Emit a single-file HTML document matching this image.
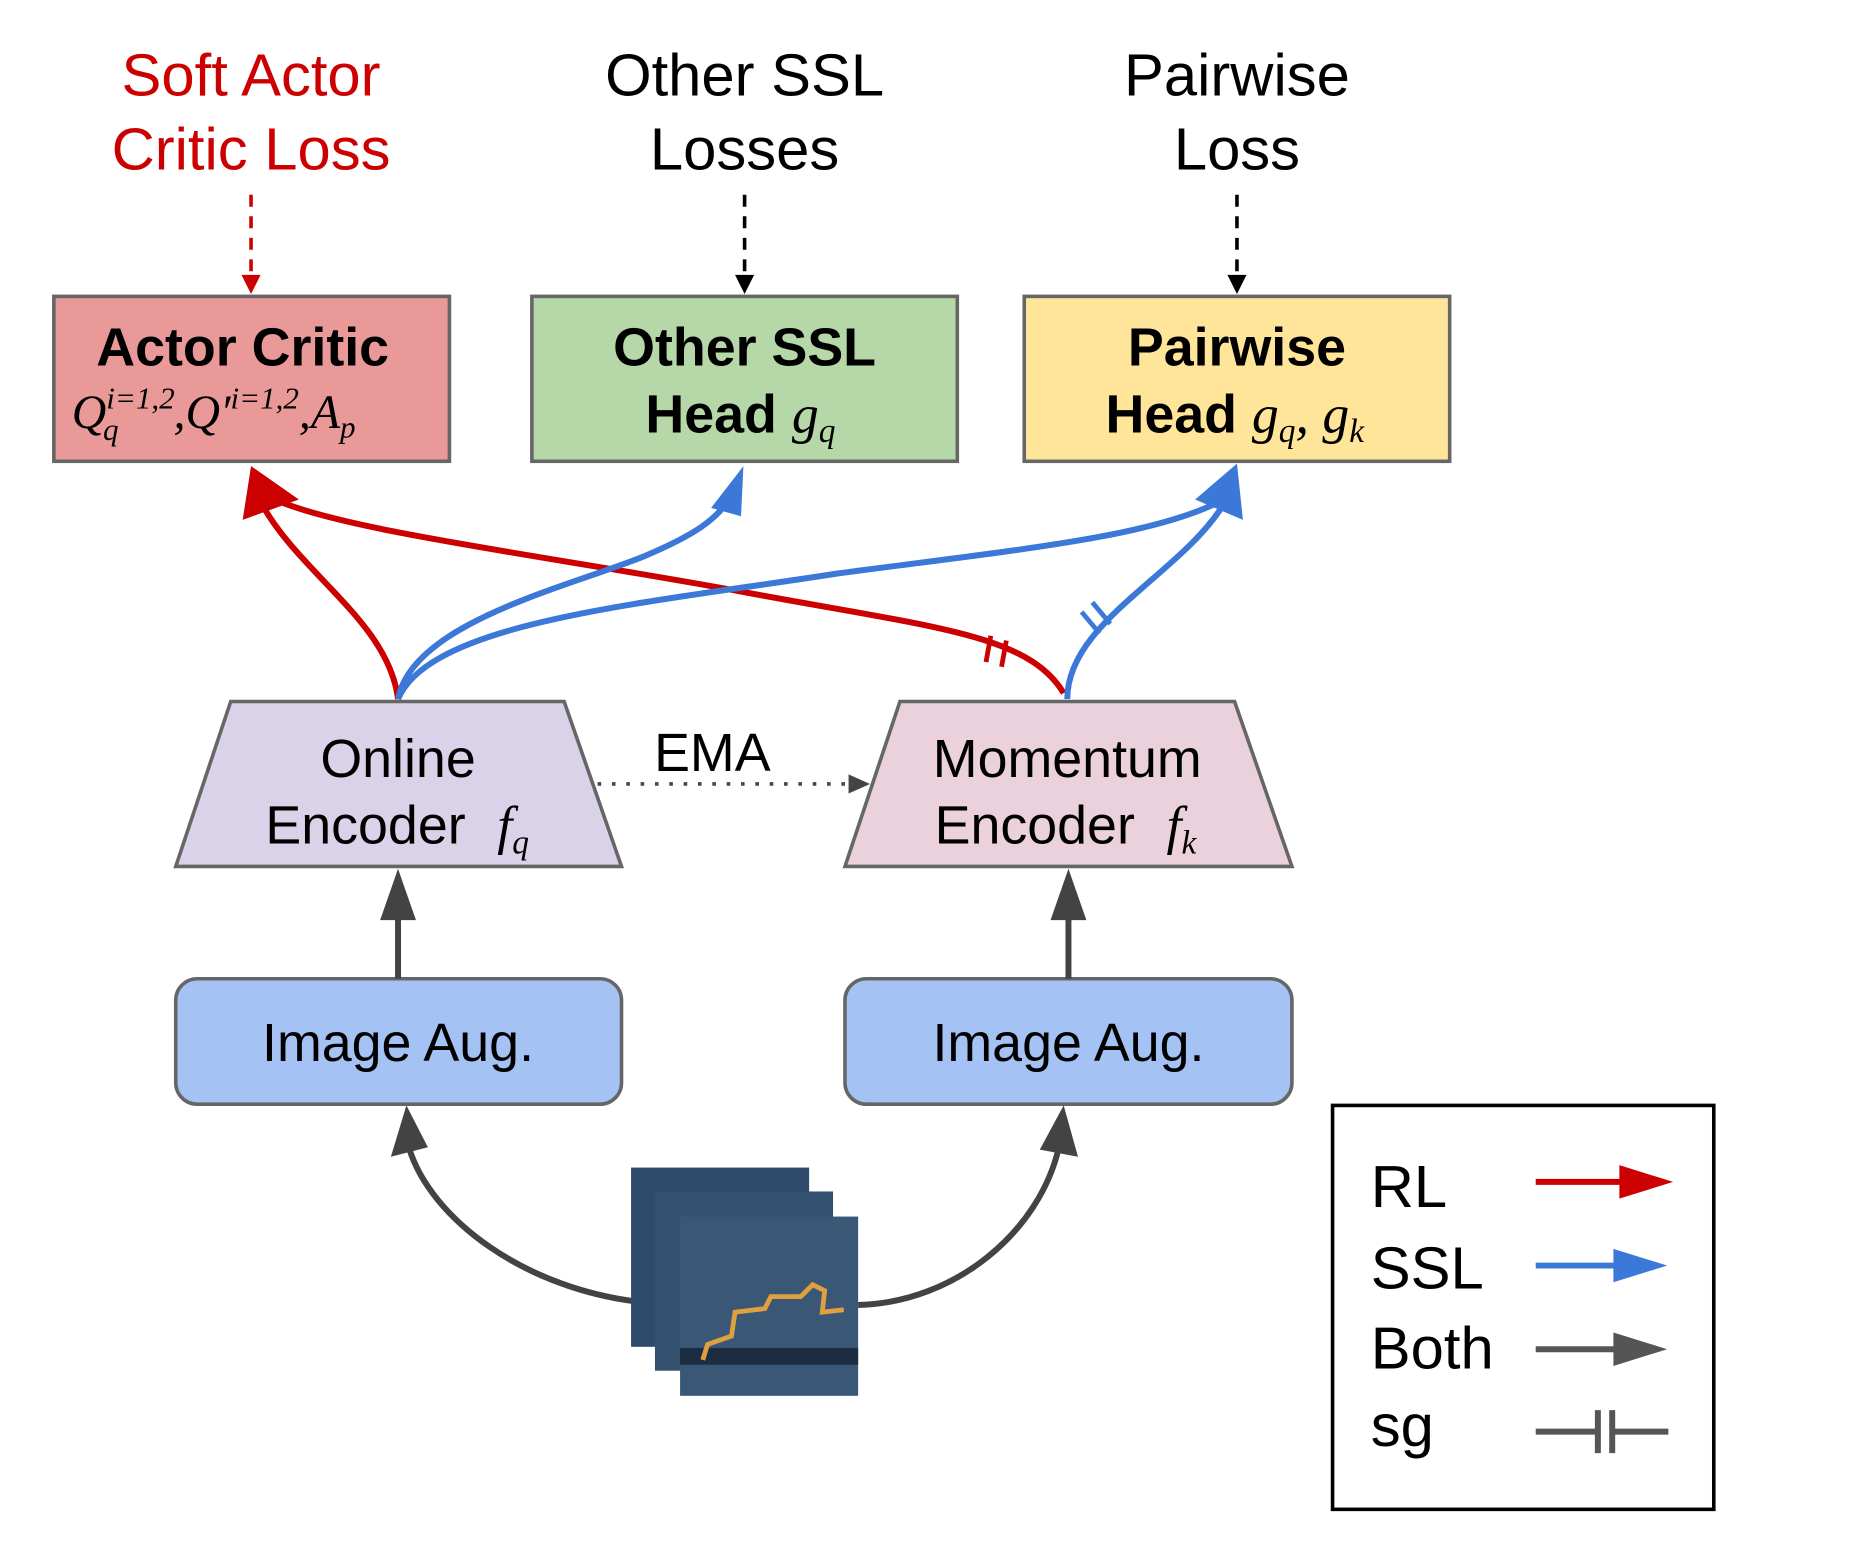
<!DOCTYPE html>
<html><head><meta charset="utf-8"><style>
html,body{margin:0;padding:0;background:#fff;}
svg{display:block;}
text{font-family:"Liberation Sans",sans-serif;}
.m{font-family:"Liberation Serif",serif;font-style:italic;}
</style></head><body>
<svg width="1874" height="1544" viewBox="0 0 1568 1292" xmlns="http://www.w3.org/2000/svg">
<rect width="1568" height="1292" fill="#fff"/>
<g font-size="50" text-anchor="middle">
<text x="210" y="80" fill="#cc0000">Soft Actor</text>
<text x="210" y="142" fill="#cc0000">Critic Loss</text>
<text x="623" y="80">Other SSL</text>
<text x="623" y="142">Losses</text>
<text x="1035" y="80">Pairwise</text>
<text x="1035" y="142">Loss</text>
</g>
<g stroke-width="3" stroke-dasharray="10,8" fill="none">
<line x1="210" y1="163" x2="210" y2="232" stroke="#cc0000"/>
<line x1="623" y1="163" x2="623" y2="232" stroke="#000"/>
<line x1="1035" y1="163" x2="1035" y2="232" stroke="#000"/>
</g>
<path d="M202,230 L210,246 L218,230z" fill="#cc0000"/>
<path d="M615,230 L623,246 L631,230z" fill="#000"/>
<path d="M1027,230 L1035,246 L1043,230z" fill="#000"/>
<rect x="45" y="248" width="331" height="138" fill="#ea9999" stroke="#666" stroke-width="3"/>
<rect x="445" y="248" width="356" height="138" fill="#b6d7a8" stroke="#666" stroke-width="3"/>
<rect x="857" y="248" width="356" height="138" fill="#ffe599" stroke="#666" stroke-width="3"/>
<text x="203" y="306" font-size="45" font-weight="bold" text-anchor="middle">Actor Critic</text>
<text x="60" y="358" font-size="40" class="m">Q<tspan font-size="26" dy="-16">i=1,2</tspan><tspan font-size="26" dx="-60" dy="26">q</tspan><tspan dx="46" dy="-10">,Q′</tspan><tspan font-size="26" dy="-16">i=1,2</tspan><tspan dy="16">,A</tspan><tspan font-size="26" dy="8">p</tspan></text>
<text x="623" y="306" font-size="45" font-weight="bold" text-anchor="middle">Other SSL</text>
<text x="540" y="362" font-size="45" font-weight="bold">Head <tspan class="m" font-weight="normal">g</tspan><tspan class="m" font-weight="normal" font-size="28" dy="8">q</tspan></text>
<text x="1035" y="306" font-size="45" font-weight="bold" text-anchor="middle">Pairwise</text>
<text x="925" y="362" font-size="45" font-weight="bold">Head <tspan class="m" font-weight="normal">g</tspan><tspan class="m" font-weight="normal" font-size="28" dy="8">q</tspan><tspan class="m" font-weight="normal" dy="-8">, g</tspan><tspan class="m" font-weight="normal" font-size="28" dy="8">k</tspan></text>
<g fill="none" stroke-width="5">
<path d="M333,585 C325,520 250,480 218,420" stroke="#cc0000"/>
<path d="M890,580 C860,530 780,525 620,495 C470,467 290,445 230,418" stroke="#cc0000"/>
<path d="M333,585 C345,520 480,490 540,465 C580,448 600,435 612,415" stroke="#3c78d8"/>
<path d="M333,585 C360,520 540,505 700,480 C850,460 960,450 1020,420" stroke="#3c78d8"/>
<path d="M893,585 C893,520 990,480 1025,420" stroke="#3c78d8"/>
</g>
<path d="M210,390 L203,435 L250,418z" fill="#cc0000"/>
<path d="M622,390 L595,425 L620,432z" fill="#3c78d8"/>
<path d="M1035,388 L1000,418 L1040,435z" fill="#3c78d8"/>
<g stroke-width="4">
<line x1="829" y1="532" x2="825" y2="554" stroke="#cc0000"/>
<line x1="842" y1="536" x2="838" y2="558" stroke="#cc0000"/>
<line x1="905" y1="512" x2="920" y2="530" stroke="#3c78d8"/>
<line x1="914" y1="504" x2="929" y2="522" stroke="#3c78d8"/>
</g>
<polygon points="193,587 472,587 520,725 147,725" fill="#d9d2e9" stroke="#666" stroke-width="3"/>
<polygon points="753,587 1033,587 1081,725 707,725" fill="#ead1dc" stroke="#666" stroke-width="3"/>
<text x="333" y="650" font-size="45" text-anchor="middle">Online</text>
<text x="222" y="706" font-size="45">Encoder <tspan class="m" dx="14">f</tspan><tspan class="m" font-size="28" dy="8">q</tspan></text>
<text x="893" y="650" font-size="45" text-anchor="middle">Momentum</text>
<text x="782" y="706" font-size="45">Encoder <tspan class="m" dx="14">f</tspan><tspan class="m" font-size="28" dy="8">k</tspan></text>
<text x="596" y="645" font-size="45" text-anchor="middle">EMA</text>
<line x1="500" y1="656" x2="712" y2="656" stroke="#444" stroke-width="3" stroke-dasharray="3,9"/>
<path d="M710,648 L728,656 L710,664z" fill="#444"/>
<rect x="147" y="819" width="373" height="105" rx="18" fill="#a4c2f4" stroke="#666" stroke-width="3"/>
<rect x="707" y="819" width="374" height="105" rx="18" fill="#a4c2f4" stroke="#666" stroke-width="3"/>
<text x="333" y="888" font-size="45" text-anchor="middle">Image Aug.</text>
<text x="894" y="888" font-size="45" text-anchor="middle">Image Aug.</text>
<g stroke="#434343" stroke-width="5" fill="none">
<line x1="333" y1="819" x2="333" y2="760"/>
<line x1="894" y1="819" x2="894" y2="760"/>
<path d="M540,1090 C440,1080 360,1020 342,960"/>
<path d="M718,1092 C800,1090 870,1030 886,960"/>
</g>
<path d="M333,727 L318,770 L348,770z" fill="#434343"/>
<path d="M894,727 L879,770 L909,770z" fill="#434343"/>
<path d="M340,925 L327,968 L358,960z" fill="#434343"/>
<path d="M890,925 L870,962 L902,968z" fill="#434343"/>
<rect x="528" y="977" width="149" height="150" fill="#2f4a6a"/>
<rect x="548" y="997" width="149" height="150" fill="#34506f"/>
<rect x="569" y="1018" width="149" height="150" fill="#3a5776"/>
<rect x="569" y="1128" width="149" height="14" fill="#1c2d42"/>
<path d="M588,1138 L592,1125 L612,1118 L615,1098 L640,1095 L645,1085 L670,1085 L680,1075 L690,1080 L688,1098 L706,1096" fill="none" stroke="#e0a040" stroke-width="4"/>
<rect x="1115" y="925" width="319" height="338" fill="#fff" stroke="#000" stroke-width="3"/>
<g font-size="50">
<text x="1147" y="1010">RL</text>
<text x="1147" y="1078">SSL</text>
<text x="1147" y="1145">Both</text>
<text x="1147" y="1210">sg</text>
</g>
<line x1="1285" y1="989" x2="1360" y2="989" stroke="#cc0000" stroke-width="5"/>
<path d="M1355,975 L1400,989 L1355,1003z" fill="#cc0000"/>
<line x1="1285" y1="1059" x2="1355" y2="1059" stroke="#3c78d8" stroke-width="5"/>
<path d="M1350,1045 L1395,1059 L1350,1073z" fill="#3c78d8"/>
<line x1="1285" y1="1129" x2="1355" y2="1129" stroke="#555" stroke-width="5"/>
<path d="M1350,1115 L1395,1129 L1350,1143z" fill="#555"/>
<g stroke="#555" stroke-width="5">
<line x1="1285" y1="1198" x2="1335" y2="1198"/>
<line x1="1350" y1="1198" x2="1396" y2="1198"/>
<line x1="1337" y1="1180" x2="1337" y2="1216"/>
<line x1="1349" y1="1180" x2="1349" y2="1216"/>
</g>
</svg>
</body></html>
